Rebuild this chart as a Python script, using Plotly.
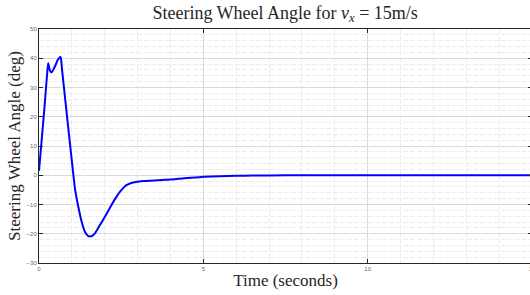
import plotly.graph_objects as go

t = [0.00, 0.05, 0.10, 0.15, 0.20, 0.25, 0.28, 0.31, 0.35, 0.39, 0.44, 0.50, 0.56, 0.62,
     0.66, 0.70, 0.80, 0.90, 1.00, 1.05, 1.10, 1.15, 1.20, 1.30, 1.40, 1.50, 1.55, 1.62,
     1.70, 1.85, 2.00, 2.15, 2.26, 2.36, 2.46, 2.56, 2.66, 2.77, 2.87, 3.00, 3.20, 3.50,
     3.75, 4.00, 4.25, 4.50, 4.75, 5.00, 5.50, 6.00, 6.50, 7.00, 8.00, 10.0, 12.0, 15.0]
angle = [1.5, 8.0, 14.5, 21.0, 28.0, 35.0, 38.4, 36.8, 35.4, 35.2, 36.2, 37.6, 39.2, 40.2,
         40.4, 36.2, 25.7, 15.2, 4.8, -0.3, -5.0, -8.2, -11.0, -16.0, -19.4, -20.8, -20.9, -20.7,
         -19.9, -17.1, -14.3, -11.3, -9.1, -7.3, -5.7, -4.4, -3.4, -2.8, -2.5, -2.2, -1.95, -1.8,
         -1.6, -1.45, -1.2, -0.95, -0.75, -0.55, -0.35, -0.2, -0.1, -0.05, 0.0, 0.0, 0.0, 0.0]

x_ticks = [0, 5, 10, 15]
y_ticks = [-30, -20, -10, 0, 10, 20, 30, 40, 50]

serif = "Liberation Serif, Times New Roman, serif"

fig = go.Figure()
fig.add_trace(go.Scatter(x=t, y=angle, mode="lines",
                         line=dict(color="#0000ff", width=2, shape="spline", smoothing=0.5)))

axis_common = dict(
    showline=True, linecolor="#262626", linewidth=1, mirror="ticks",
    ticks="inside", ticklen=4, tickcolor="#262626", tickwidth=1,
    tickfont=dict(size=6, color="#666666", family="Liberation Sans, Arial"),
    ticklabeloverflow="allow",
    showgrid=True, gridcolor="#dadada", gridwidth=1,
    zeroline=False, automargin=False,
)
minor_common = dict(showgrid=True, gridcolor="#ececec", griddash="5px,2px", gridwidth=1)

fig.update_layout(
    template="none",
    width=532, height=295,
    margin=dict(l=39, r=0, t=29, b=32, pad=0),
    paper_bgcolor="white", plot_bgcolor="white",
    showlegend=False, hovermode=False,
    title=dict(text="Steering Wheel Angle for <i>v<sub>x</sub></i> = 15m/s",
               x=0.536, xanchor="center", y=0.958, yanchor="middle",
               font=dict(family=serif, size=18, color="#262626")),
    xaxis=dict(**axis_common, range=[0, 15], tickvals=x_ticks,
               minor=dict(dtick=1, **minor_common),
               title=dict(text="Time (seconds)", font=dict(family=serif, size=17, color="#262626"),
                          standoff=2)),
    yaxis=dict(**axis_common, range=[-30, 50], tickvals=y_ticks,
               minor=dict(dtick=2, **minor_common),
               title=dict(text="Steering Wheel Angle (deg)", font=dict(family=serif, size=17, color="#262626"),
                          standoff=1)),
)

fig.write_html("out.html", config={"displayModeBar": False},
               post_script="document.body.style.margin='0';document.body.style.overflow='hidden';")
